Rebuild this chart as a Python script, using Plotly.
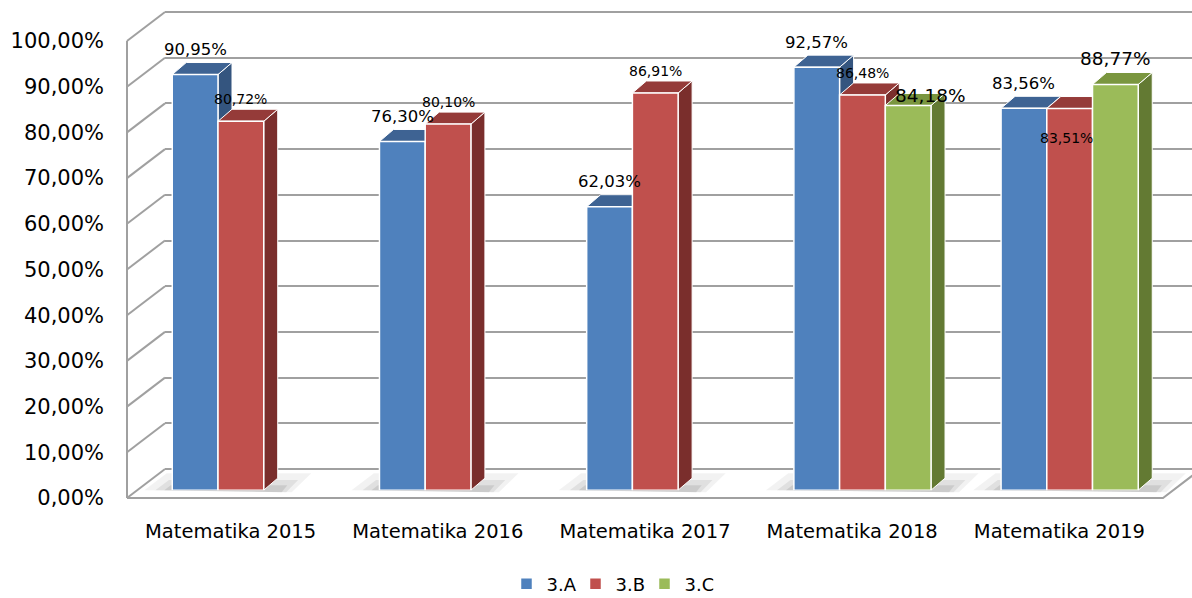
import plotly.graph_objects as go

# ---------------- data ----------------
categories = ["Matematika 2015", "Matematika 2016", "Matematika 2017",
              "Matematika 2018", "Matematika 2019"]
series_names = ["3.A", "3.B", "3.C"]
values_A = [90.95, 76.30, 62.03, 92.57, 83.56]
values_B = [80.72, 80.10, 86.91, 86.48, 83.51]
values_C = [None, None, None, 84.18, 88.77]
y_ticks = [0, 10, 20, 30, 40, 50, 60, 70, 80, 90, 100]
y_ticktext = [f"{v:.2f}".replace(".", ",") + "%" for v in y_ticks]

# ---------------- styles / geometry ----------------
W, H = 1192, 598
FONT = "DejaVu Sans"
front_colors = ["#4F81BD", "#C0504D", "#9BBB59"]
top_colors = ["#3E6393", "#953B39", "#7A963F"]
side_colors = ["#34557F", "#7A2E2C", "#637A33"]
label_sizes = [16.5, 14, 18.5]
label_dy = [25, 22, 26]
label_special = {(3, 2): (22, 10), (4, 1): (-3, -29)}

F_X0, F_X1, F_Y0 = 127, 1163, 498      # front plane (px)
SCALE = 4.57                            # px per percent
D_DX, D_DY = 38, -29                    # full depth offset (px)
BAR_FRAC = 0.27                         # depth of bar plane
P_X0 = F_X0 + D_DX * BAR_FRAC
P_Y0 = F_Y0 + D_DY * BAR_FRAC
B_X0, B_Y0 = F_X0 + D_DX, F_Y0 + D_DY
CAT_W = (F_X1 - F_X0) / len(categories)
BOX_DX, BOX_DY = 14, -12                # bar box depth (px)
BARGAP = 0.338

def pxx(p):
    return p / W

def pxy(p):
    return 1 - p / H

def ydom(y0px, rng):
    return [pxy(y0px - rng[0] * SCALE), pxy(y0px - rng[1] * SCALE)]

def xdom_cat(x0px, rng):
    return [pxx(x0px + (rng[0] + 0.5) * CAT_W), pxx(x0px + (rng[1] + 0.5) * CAT_W)]

fig = go.Figure()

# subplot 1: back wall grid
fig.add_trace(go.Scatter(x=[], y=[], xaxis="x", yaxis="y", showlegend=False, hoverinfo="skip"))
# subplot 2: front plane (tick labels)
fig.add_trace(go.Scatter(x=[], y=[], xaxis="x2", yaxis="y2", showlegend=False, hoverinfo="skip"))

# subplot 3: bars
xs = list(range(len(categories)))
all_vals = [values_A, values_B, values_C]
for k, (name, vals) in enumerate(zip(series_names, all_vals)):
    fig.add_trace(go.Bar(
        x=xs, y=vals, name=name, xaxis="x3", yaxis="y3",
        marker=dict(color=front_colors[k], line=dict(color="white", width=1.5)),
        hoverinfo="skip",
    ))

shapes = []
# ---- walls & floor (paper shapes) ----
line_style = dict(color="#A0A0A0", width=2)
shapes.append(dict(type="line", xref="paper", yref="paper",
                   x0=pxx(F_X0), y0=pxy(F_Y0), x1=pxx(F_X0), y1=pxy(F_Y0 - 100 * SCALE),
                   line=line_style, layer="below"))
for v in y_ticks:
    shapes.append(dict(type="line", xref="paper", yref="paper",
                       x0=pxx(F_X0), y0=pxy(F_Y0 - v * SCALE),
                       x1=pxx(B_X0), y1=pxy(B_Y0 - v * SCALE),
                       line=line_style, layer="below"))
shapes.append(dict(type="path", xref="paper", yref="paper",
                   path=f"M{pxx(F_X0)},{pxy(F_Y0)} L{pxx(F_X1)},{pxy(F_Y0)} L{pxx(F_X1 + D_DX)},{pxy(B_Y0)}",
                   line=line_style, layer="below"))

# floor shadows around each group
bw = (1 - BARGAP) / 3
for i in xs:
    n = sum(1 for vals in all_vals if vals[i] is not None)
    gx0 = P_X0 + (i + 0.5) * CAT_W - 1.5 * bw * CAT_W
    gx1 = gx0 + n * bw * CAT_W + BOX_DX
    for grow, alpha in [(28, 0.05), (17, 0.07), (8, 0.09)]:
        p = (f"M{pxx(gx0 - grow)},{pxy(P_Y0)} L{pxx(gx0 - grow * 0.2)},{pxy(P_Y0 - grow * 0.6)} "
             f"L{pxx(gx1 + grow * 1.2)},{pxy(P_Y0 - grow * 0.6)} L{pxx(gx1 + grow * 0.5)},{pxy(P_Y0 + 2)} Z")
        shapes.append(dict(type="path", xref="paper", yref="paper", path=p,
                           fillcolor=f"rgba(0,0,0,{alpha})", line=dict(width=0), layer="below"))

# ---- 3D bar faces (in bar-plane axes) ----
dxu = BOX_DX / CAT_W
dyu = -BOX_DY / SCALE
annotations = []
for i in xs:
    for k, vals in enumerate(all_vals):
        v = vals[i]
        if v is None:
            continue
        c = i + (k - 1) * bw
        x0, x1 = c - bw / 2, c + bw / 2
        side = (f"M{x1},0 L{x1},{v} L{x1 + dxu},{v + dyu} L{x1 + dxu},{dyu} Z")
        top = (f"M{x0},{v} L{x1},{v} L{x1 + dxu},{v + dyu} L{x0 + dxu},{v + dyu} Z")
        shapes.append(dict(type="path", xref="x3", yref="y3", path=side,
                           fillcolor=side_colors[k], line=dict(color="white", width=1), layer="below"))
        shapes.append(dict(type="path", xref="x3", yref="y3", path=top,
                           fillcolor=top_colors[k], line=dict(color="white", width=1), layer="below"))
        ddx, ddy = label_special.get((i, k), (0, label_dy[k]))
        annotations.append(dict(
            x=c, y=v, xref="x3", yref="y3", showarrow=False,
            text=f"{v:.2f}".replace(".", ",") + "%",
            xanchor="center", yanchor="middle", xshift=ddx, yshift=ddy,
            font=dict(family=FONT, size=label_sizes[k], color="black"),
        ))

back_rng = [-1, 101]
front_rng = [-0.5, 100.5]
bar_rng = [0, 100]
cat_rng = [-0.5, len(categories) - 0.5]

fig.update_layout(
    template="none",
    width=W, height=H,
    margin=dict(l=0, r=0, t=0, b=0, pad=0, autoexpand=False),
    paper_bgcolor="white", plot_bgcolor="rgba(0,0,0,0)",
    separators=",.",
    barmode="group", bargap=BARGAP, bargroupgap=0,
    font=dict(family=FONT, color="black"),
    shapes=shapes, annotations=annotations,
    xaxis=dict(domain=[pxx(B_X0), 1], range=[0, 1], visible=False, fixedrange=True,
               automargin=False),
    yaxis=dict(domain=ydom(B_Y0, back_rng), range=back_rng, anchor="x", automargin=False,
               tickvals=y_ticks, showgrid=True, gridcolor="#A0A0A0", gridwidth=2,
               zeroline=False, showticklabels=False, showline=False, ticks=""),
    xaxis2=dict(domain=xdom_cat(F_X0, cat_rng), range=cat_rng, anchor="y2", automargin=False,
                tickvals=xs, ticktext=categories, showgrid=False, zeroline=False,
                showline=False, ticks="", tickfont=dict(family=FONT, size=19.5, color="black"),
                ticklabelstandoff=17),
    yaxis2=dict(domain=ydom(F_Y0, front_rng), range=front_rng, anchor="x2", automargin=False,
                tickvals=y_ticks, ticktext=y_ticktext,
                showgrid=False, zeroline=False, showline=False, ticks="",
                tickfont=dict(family=FONT, size=21, color="black"), ticklabelstandoff=22),
    xaxis3=dict(domain=xdom_cat(P_X0, cat_rng), range=cat_rng, anchor="y3", visible=False,
                automargin=False),
    yaxis3=dict(domain=ydom(P_Y0, bar_rng), range=bar_rng, anchor="x3", visible=False,
                automargin=False),
    legend=dict(orientation="h", x=pxx(610), xanchor="center", y=pxy(584), yanchor="middle",
                font=dict(family=FONT, size=18, color="black"), traceorder="normal",
                bgcolor="rgba(0,0,0,0)", entrywidth=24, entrywidthmode="pixels"),
    showlegend=True,
)

fig.write_html("out.html", config={"displayModeBar": False},
               post_script="document.body.style.margin='0';document.body.style.overflow='hidden';")
